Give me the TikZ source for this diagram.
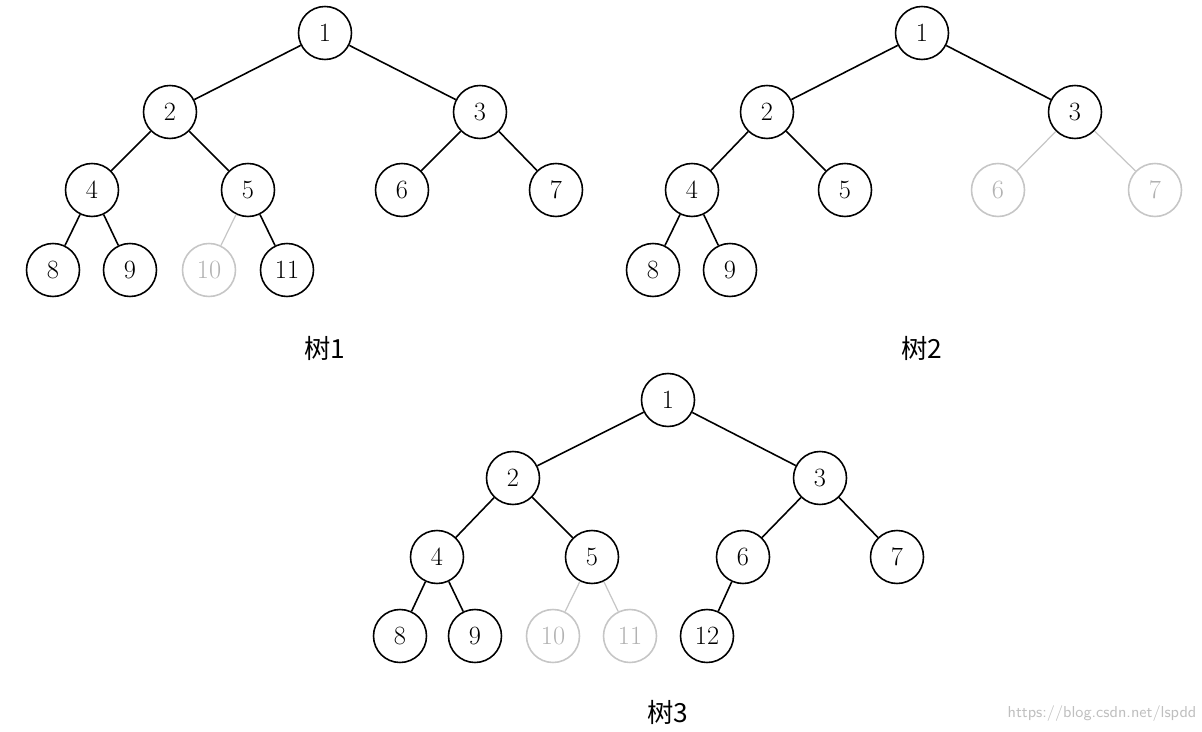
\documentclass[tikz,border=0pt]{standalone}
\usepackage{fontspec}
\newfontfamily\cjk{Noto Sans CJK SC}
\begin{document}
\begin{tikzpicture}[x=0.02cm,y=-0.02cm,
  nd/.style={circle,draw,line width=0.9pt,minimum size=1.06cm,inner sep=0pt,font=\fontsize{15}{15}\selectfont},
  gn/.style={nd,draw=gray!45,text=gray!60},
  ed/.style={line width=0.9pt},
  ge/.style={line width=0.7pt,gray!45},
  lb/.style={font=\cjk\fontsize{15}{15}\selectfont}]
\useasboundingbox (0,0) rectangle (1202,732);
% Tree 1
\node[nd] (a1) at (325,33) {1};
\node[nd] (a2) at (170,112) {2};
\node[nd] (a3) at (480,112) {3};
\node[nd] (a4) at (92,190) {4};
\node[nd] (a5) at (248,190) {5};
\node[nd] (a6) at (402,190) {6};
\node[nd] (a7) at (556,190) {7};
\node[nd] (a8) at (53,270) {8};
\node[nd] (a9) at (130,270) {9};
\node[gn] (a10) at (209,270) {10};
\node[nd] (a11) at (287,270) {11};
\draw[ed] (a1)--(a2) (a1)--(a3) (a2)--(a4) (a2)--(a5) (a3)--(a6) (a3)--(a7) (a4)--(a8) (a4)--(a9) (a5)--(a11);
\draw[ge] (a5)--(a10);
\node[lb] (l1) at (325,348) {树1};
% Tree 2
\node[nd] (b1) at (922,33) {1};
\node[nd] (b2) at (767,112) {2};
\node[nd] (b3) at (1075,112) {3};
\node[nd] (b4) at (692,190) {4};
\node[nd] (b5) at (845,190) {5};
\node[gn] (b6) at (998,190) {6};
\node[gn] (b7) at (1155,190) {7};
\node[nd] (b8) at (653,270) {8};
\node[nd] (b9) at (730,270) {9};
\draw[ed] (b1)--(b2) (b1)--(b3) (b2)--(b4) (b2)--(b5) (b4)--(b8) (b4)--(b9);
\draw[ge] (b3)--(b6) (b3)--(b7);
\node[lb] (l2) at (922,348) {树2};
% Tree 3
\node[nd] (c1) at (668,400) {1};
\node[nd] (c2) at (513,478) {2};
\node[nd] (c3) at (820,478) {3};
\node[nd] (c4) at (437,557) {4};
\node[nd] (c5) at (592,557) {5};
\node[nd] (c6) at (743,557) {6};
\node[nd] (c7) at (897,557) {7};
\node[nd] (c8) at (400,636) {8};
\node[nd] (c9) at (475,636) {9};
\node[gn] (c10) at (553,636) {10};
\node[gn] (c11) at (630,636) {11};
\node[nd] (c12) at (707,636) {12};
\draw[ed] (c1)--(c2) (c1)--(c3) (c2)--(c4) (c2)--(c5) (c3)--(c6) (c3)--(c7) (c4)--(c8) (c4)--(c9) (c6)--(c12);
\draw[ge] (c5)--(c10) (c5)--(c11);
\node[lb] (l3) at (668,712) {树3};
\node[font=\sffamily\small,text=gray!50] (wm) at (1102,714) {https://blog.csdn.net/lspdd};
\end{tikzpicture}
\end{document}
